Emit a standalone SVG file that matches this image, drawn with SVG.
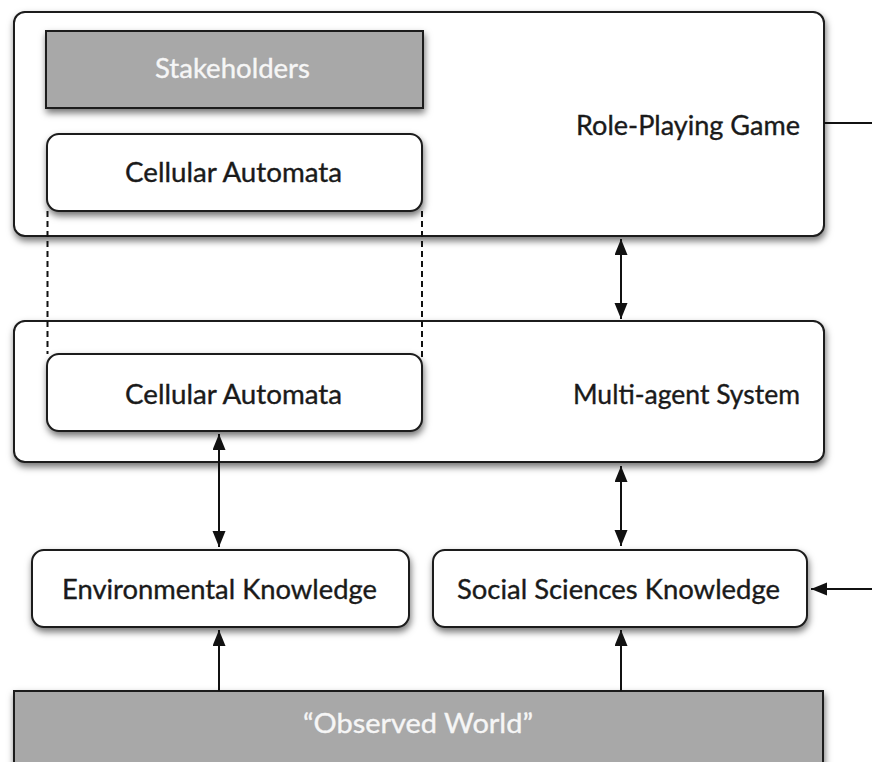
<svg xmlns="http://www.w3.org/2000/svg" width="872" height="762" viewBox="0 0 872 762">
<defs>
<filter id="sh" x="-10%" y="-20%" width="120%" height="150%">
<feDropShadow dx="1" dy="4" stdDeviation="3.5" flood-color="#000" flood-opacity="0.55"/>
</filter>
<marker id="ah" markerUnits="userSpaceOnUse" markerWidth="17" markerHeight="14" refX="16" refY="6.5" orient="auto-start-reverse" viewBox="0 0 17 14">
<path d="M0,0 L16,6.5 L0,13 z" fill="#111"/>
</marker>
</defs>
<style>
.box{fill:#fff;stroke:#1a1a1a;stroke-width:2;}
.grey{fill:#a8a8a8;stroke:#1a1a1a;stroke-width:2;}
.t{font-family:Lato,"Open Sans","Liberation Sans",sans-serif;font-size:26px;fill:#1a1a1a;stroke:#1a1a1a;stroke-width:0.35;}
.w{fill:#f6f6f6;stroke:#f6f6f6;}
.c{fill:none;stroke:#111;stroke-width:2;}
.d{fill:none;stroke:#111;stroke-width:2;stroke-dasharray:6 4;}
</style>

<g id="rpg">
<rect class="box" x="14" y="12" width="810" height="224" rx="11" filter="url(#sh)"/>
<text class="t" x="576" y="135" textLength="224" lengthAdjust="spacingAndGlyphs">Role-Playing Game</text>
</g>
<g id="stakeholders">
<rect class="grey" x="46" y="31" width="377" height="77" filter="url(#sh)"/>
<text class="t w" x="155" y="78" textLength="155" lengthAdjust="spacingAndGlyphs">Stakeholders</text>
</g>
<g id="ca-top">
<rect class="box" x="47" y="134" width="375" height="77" rx="12" filter="url(#sh)"/>
<text class="t" x="125" y="182" textLength="217" lengthAdjust="spacingAndGlyphs">Cellular Automata</text>
</g>

<g id="mas">
<rect class="box" x="14" y="321" width="810" height="141" rx="11" filter="url(#sh)"/>
<text class="t" x="573" y="404" textLength="227" lengthAdjust="spacingAndGlyphs">Multi-agent System</text>
</g>
<g id="ca-mas">
<rect class="box" x="47" y="354" width="375" height="77" rx="12" filter="url(#sh)"/>
<text class="t" x="125" y="404" textLength="217" lengthAdjust="spacingAndGlyphs">Cellular Automata</text>
</g>

<g id="env">
<rect class="box" x="32" y="550" width="377" height="77" rx="12" filter="url(#sh)"/>
<text class="t" x="62" y="599" textLength="315" lengthAdjust="spacingAndGlyphs">Environmental Knowledge</text>
</g>
<g id="soc">
<rect class="box" x="433" y="550" width="374" height="77" rx="12" filter="url(#sh)"/>
<text class="t" x="457" y="599" textLength="323" lengthAdjust="spacingAndGlyphs">Social Sciences Knowledge</text>
</g>

<g id="observed">
<rect class="grey" x="14" y="691" width="809" height="90" filter="url(#sh)"/>
<text class="t w" x="303" y="733" textLength="230" lengthAdjust="spacingAndGlyphs">“Observed World”</text>
</g>

<g id="connectors">
<line class="d" x1="47.5" y1="211" x2="47.5" y2="354"/>
<line class="d" x1="422" y1="211" x2="422" y2="360"/>
<line class="c" x1="621" y1="239" x2="621" y2="319" marker-start="url(#ah)" marker-end="url(#ah)"/>
<line class="c" x1="219" y1="434" x2="219" y2="547" marker-start="url(#ah)" marker-end="url(#ah)"/>
<line class="c" x1="621" y1="466" x2="621" y2="546" marker-start="url(#ah)" marker-end="url(#ah)"/>
<line class="c" x1="219" y1="691" x2="219" y2="630" marker-end="url(#ah)"/>
<line class="c" x1="621" y1="691" x2="621" y2="630" marker-end="url(#ah)"/>
<line class="c" x1="824" y1="123" x2="872" y2="123"/>
<line class="c" x1="872" y1="589" x2="811" y2="589" marker-end="url(#ah)"/>
</g>
</svg>
